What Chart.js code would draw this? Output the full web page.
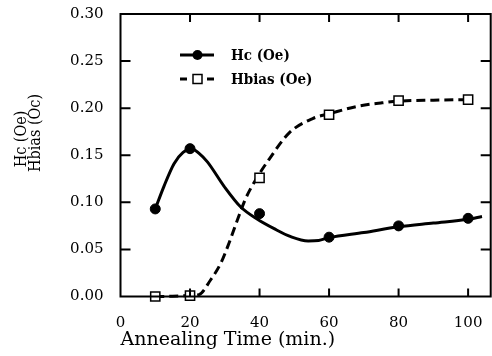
<!DOCTYPE html>
<html lang="en">
<head>
  <meta charset="UTF-8">
  <title>Hc and Hbias vs Annealing Time</title>
  <style>
    body { margin: 0; background: #fff; }
    #wrap { width: 492px; height: 356px; }
  </style>
  <script src="https://cdn.jsdelivr.net/npm/chart.js"></script>
</head>
<body>
  <div id="wrap"><canvas id="hcChart"></canvas></div>

  <script>
    // measured points
    var hcTime = [10, 20, 40, 60, 80, 100];
    var hcValues = [0.093, 0.157, 0.088, 0.063, 0.075, 0.083];
    var hbTime = [10, 20, 40, 60, 80, 100];
    var hbValues = [0.000, 0.001, 0.126, 0.193, 0.208, 0.209];

    // fitted curves
    var hcCurveTime = [10, 12.5, 15.4, 18, 20.5, 22.6, 25, 29.8, 34.6, 39.4, 44.2, 49, 54, 57, 60, 70, 80, 90, 100, 104];
    var hcCurveValues = [0.093, 0.117, 0.141, 0.153, 0.157, 0.152, 0.143, 0.117, 0.095, 0.082, 0.072, 0.0635, 0.059, 0.0595, 0.0625, 0.068, 0.074, 0.078, 0.082, 0.085];
    var hbCurveTime = [10, 15, 20, 22.6, 25.9, 28.8, 31.2, 33.6, 36, 38.9, 42.8, 48.6, 55.3, 60, 68.2, 74.9, 80, 90, 100, 101];
    var hbCurveValues = [0.000, 0.0003, 0.001, 0.002, 0.0175, 0.035, 0.0565, 0.081, 0.104, 0.124, 0.146, 0.174, 0.189, 0.194, 0.202, 0.2055, 0.2075, 0.2085, 0.209, 0.209];

    var xTicks = [0, 20, 40, 60, 80, 100];
    var yTicks = [0, 0.05, 0.10, 0.15, 0.20, 0.25, 0.30];

    var legendLabels = ['Hc (Oe)', 'Hbias (Oe)'];
    var yTitleLines = ['Hc (Oe)', 'Hbias (Oc)'];

    function toXY(xs, ys) {
      return xs.map(function (x, i) { return { x: x, y: ys[i] }; });
    }

    // keep the plot box where the scan has it
    function fixPadding(axis) {
      axis.paddingLeft = 0;
      axis.paddingRight = 0;
      axis.paddingTop = 0;
      axis.paddingBottom = 0;
    }

    Chart.defaults.font.family = 'DejaVu Serif';
    Chart.defaults.color = '#000';

    // frame with inward ticks on all four sides
    var frameTicks = {
      id: 'frameTicks',
      afterDraw: function (chart) {
        var ctx = chart.ctx, a = chart.chartArea;
        var xs = chart.scales.x, ys = chart.scales.y;
        ctx.save();
        ctx.strokeStyle = '#000';
        ctx.lineWidth = 2;
        ctx.strokeRect(a.left, a.top, a.right - a.left, a.bottom - a.top);
        ctx.beginPath();
        xTicks.slice(1).forEach(function (v) {
          var px = xs.getPixelForValue(v);
          ctx.moveTo(px, a.bottom); ctx.lineTo(px, a.bottom - 8);
          ctx.moveTo(px, a.top); ctx.lineTo(px, a.top + 8);
        });
        yTicks.slice(1, -1).forEach(function (v) {
          var py = ys.getPixelForValue(v);
          ctx.moveTo(a.left, py); ctx.lineTo(a.left + 10, py);
          ctx.moveTo(a.right, py); ctx.lineTo(a.right - 10, py);
        });
        ctx.stroke();
        ctx.restore();
      }
    };

    // two-line y title and the legend box inside the plot
    var labelsPlugin = {
      id: 'labelsPlugin',
      afterDraw: function (chart) {
        var ctx = chart.ctx;
        ctx.save();
        ctx.fillStyle = '#000';
        ctx.font = '16px "DejaVu Serif Condensed", "DejaVu Serif"';
        ctx.textAlign = 'center';
        ctx.textBaseline = 'middle';
        [[21.7, 139], [36, 133]].forEach(function (p, i) {
          ctx.save();
          ctx.translate(p[0], p[1]);
          ctx.rotate(-Math.PI / 2);
          ctx.fillText(yTitleLines[i], 0, 0);
          ctx.restore();
        });

        // legend
        ctx.strokeStyle = '#000';
        ctx.lineWidth = 3;
        ctx.beginPath();
        ctx.moveTo(180, 55); ctx.lineTo(214, 55);
        ctx.stroke();
        ctx.beginPath();
        ctx.arc(197.5, 55, 5, 0, Math.PI * 2);
        ctx.fill();

        ctx.beginPath();
        ctx.moveTo(180, 79); ctx.lineTo(187, 79);
        ctx.moveTo(207, 79); ctx.lineTo(214, 79);
        ctx.stroke();
        ctx.lineWidth = 1.5;
        ctx.fillStyle = '#fff';
        ctx.fillRect(193, 74.5, 9, 9);
        ctx.strokeRect(193, 74.5, 9, 9);

        ctx.fillStyle = '#000';
        ctx.font = 'bold 15px "DejaVu Serif Condensed", "DejaVu Serif"';
        ctx.textAlign = 'left';
        ctx.fillText(legendLabels[0], 231, 56.5);
        ctx.fillText(legendLabels[1], 231, 80);
        ctx.restore();
      }
    };

    var hcChart = new Chart('hcChart', {
      type: 'scatter',
      data: {
        datasets: [{
          label: legendLabels[0],
          data: toXY(hcTime, hcValues),
          pointStyle: 'circle',
          pointRadius: 5,
          pointBackgroundColor: '#000',
          pointBorderColor: '#000',
          pointBorderWidth: 1,
          showLine: false,
          clip: false
        }, {
          label: legendLabels[1],
          data: toXY(hbTime, hbValues),
          pointStyle: 'rect',
          pointRadius: 6.5,
          pointBackgroundColor: '#fff',
          pointBorderColor: '#000',
          pointBorderWidth: 1.5,
          showLine: false,
          clip: false
        }, {
          label: 'Hc fit',
          data: toXY(hcCurveTime, hcCurveValues),
          showLine: true,
          pointRadius: 0,
          borderColor: '#000',
          borderWidth: 3,
          cubicInterpolationMode: 'monotone',
          clip: false
        }, {
          label: 'Hbias fit',
          data: toXY(hbCurveTime, hbCurveValues),
          showLine: true,
          pointRadius: 0,
          borderColor: '#000',
          borderWidth: 3,
          borderDash: [9, 5],
          cubicInterpolationMode: 'monotone',
          clip: false
        }]
      },
      options: {
        responsive: true,
        maintainAspectRatio: false,
        animation: false,
        layout: { autoPadding: false, padding: { top: 14, right: 1.3, left: 0, bottom: 0 } },
        plugins: {
          legend: { display: false },
          tooltip: { enabled: false }
        },
        scales: {
          x: {
            type: 'linear',
            min: 0,
            max: 106.5,
            afterBuildTicks: function (axis) {
              axis.ticks = xTicks.map(function (v) { return { value: v }; });
            },
            afterFit: function (axis) { axis.height = 59.5; fixPadding(axis); },
            grid: { display: false, drawTicks: false },
            border: { display: false },
            ticks: { font: { size: 15 }, padding: 18, maxRotation: 0 },
            title: {
              display: true,
              text: 'Annealing Time (min.)',
              align: 'start',
              font: { size: 19 },
              padding: { top: 0, bottom: 5 }
            }
          },
          y: {
            type: 'linear',
            min: 0,
            max: 0.30,
            afterBuildTicks: function (axis) {
              axis.ticks = yTicks.map(function (v) { return { value: v }; });
            },
            afterFit: function (axis) { axis.width = 120.5; fixPadding(axis); },
            grid: { display: false, drawTicks: false },
            border: { display: false },
            ticks: {
              font: { size: 15 },
              padding: 17,
              callback: function (v) { return v.toFixed(2); }
            }
          }
        }
      },
      plugins: [frameTicks, labelsPlugin]
    });
  </script>
</body>
</html>
